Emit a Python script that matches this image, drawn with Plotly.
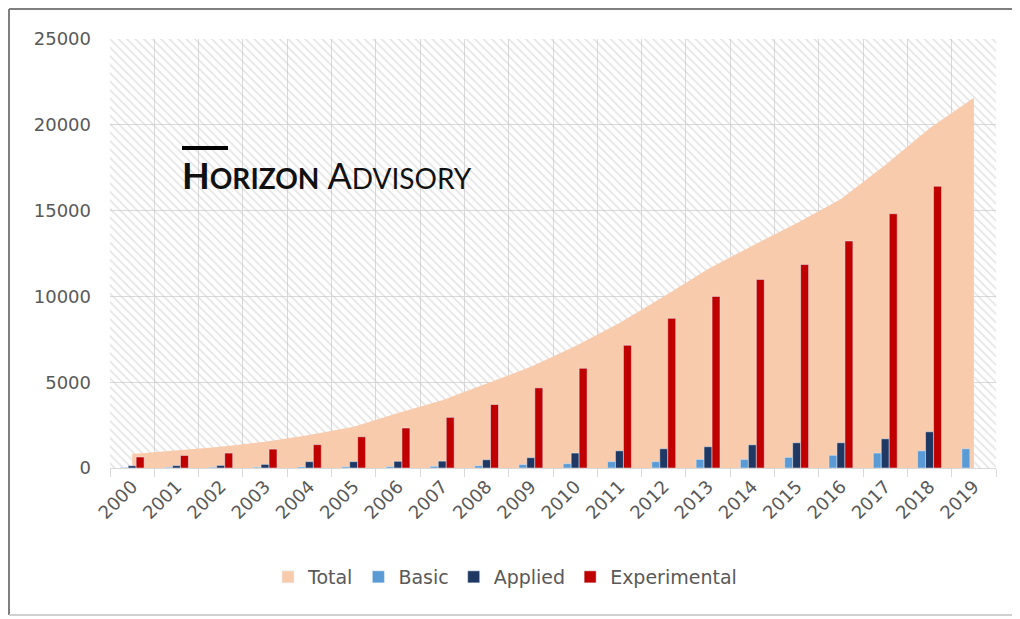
import plotly.graph_objects as go

years = [str(y) for y in range(2000, 2020)]
total = [810, 1010, 1240, 1530, 1920, 2400, 3200, 3950, 4940, 5900,
         7100, 8450, 10000, 11600, 12950, 14270, 15670, 17660, 19800, 21570]
basic = [30, 40, 40, 50, 60, 70, 80, 100, 130, 200,
         250, 370, 370, 500, 500, 620, 740, 870, 1000, 1120]
applied = [130, 140, 150, 210, 370, 370, 390, 400, 480, 600,
           870, 1000, 1120, 1240, 1350, 1470, 1470, 1700, 2110, None]
experimental = [640, 730, 870, 1100, 1360, 1820, 2330, 2950, 3700, 4670,
                5810, 7150, 8720, 10000, 10990, 11860, 13230, 14820, 16420, None]
y_ticks = [0, 5000, 10000, 15000, 20000, 25000]

TXT = "#595959"
GRID = "#d9d9d9"
FONT = "DejaVu Sans"
C_TOTAL, C_BASIC, C_APPLIED, C_EXP = "#F8CBAD", "#5B9BD5", "#1F3864", "#C00000"

# the page body adds an 8px offset; work in screen coordinates below
OFF = 8
W, H = 1020 - OFF, 619 - OFF
SX0, SX1, SY0, SY1 = 110, 996, 39, 468   # plot area on screen
L, R, T, B = SX0 - OFF, W - (SX1 - OFF), SY0 - OFF, H - (SY1 - OFF)
pw, ph = W - L - R, H - T - B


def px(x):
    return (x - OFF - L) / pw


def py(y):
    return (H - B - (y - OFF)) / ph


fig = go.Figure()

# hatched plot background on the base (hidden) axes
fig.add_trace(go.Scatter(
    x=[0, 1, 1, 0, 0], y=[0, 0, 1, 1, 0], mode="lines", fill="toself",
    line=dict(width=0), fillcolor="rgba(0,0,0,0)",
    fillpattern=dict(shape="\\", fgcolor="#c9c9c9", bgcolor="rgba(0,0,0,0)",
                     size=6, solidity=0.28),
    hoverinfo="skip", showlegend=False, xaxis="x", yaxis="y"))

# total area (own layer so that bars sit above it)
fig.add_trace(go.Scatter(
    x=years, y=total, name="Total", mode="lines", fill="tozeroy",
    line=dict(width=0, color=C_TOTAL), fillcolor=C_TOTAL,
    showlegend=False, legendgroup="total", xaxis="x2", yaxis="y2"))
fig.add_trace(go.Bar(x=[None], y=[None], name="Total", marker_color=C_TOTAL,
                     legendgroup="total", xaxis="x2", yaxis="y2"))

fig.add_trace(go.Bar(x=years, y=basic, name="Basic", marker_color=C_BASIC,
                     xaxis="x3", yaxis="y3"))
fig.add_trace(go.Bar(x=years, y=applied, name="Applied", marker_color=C_APPLIED,
                     xaxis="x3", yaxis="y3"))
fig.add_trace(go.Bar(x=years, y=experimental, name="Experimental",
                     marker_color=C_EXP, xaxis="x3", yaxis="y3"))

cat_common = dict(type="category", categoryorder="array", categoryarray=years,
                  range=[-0.5, len(years) - 0.5], fixedrange=True)

fig.update_layout(
    width=W, height=H,
    margin=dict(l=L, r=R, t=T, b=B),
    paper_bgcolor="white", plot_bgcolor="white",
    barmode="group", bargap=0.46, bargroupgap=0,
    hovermode=False,
    font=dict(family=FONT, color=TXT, size=18),
    xaxis=dict(range=[0, 1], visible=False, fixedrange=True),
    yaxis=dict(range=[0, 1], visible=False, fixedrange=True),
    xaxis2=dict(overlaying="x", anchor="y2", **cat_common,
                tickson="boundaries", ticks="outside", ticklen=8,
                tickcolor=GRID, showgrid=True, gridcolor=GRID, gridwidth=1,
                showline=True, linecolor=GRID, linewidth=1,
                tickangle=-45, tickfont=dict(size=18, color=TXT, family=FONT)),
    yaxis2=dict(overlaying="y", anchor="x2", range=[0, 25000],
                tickvals=y_ticks, tickformat="d", showgrid=True,
                gridcolor=GRID, gridwidth=1, fixedrange=True,
                zeroline=False, showline=False, ticks="",
                ticklabelstandoff=18,
                tickfont=dict(size=18, color=TXT, family=FONT)),
    xaxis3=dict(overlaying="x", anchor="y3", **cat_common, visible=False),
    yaxis3=dict(overlaying="y", anchor="x3", range=[0, 25000], visible=False,
                fixedrange=True),
    legend=dict(orientation="h", x=px(505), xanchor="center", y=py(577),
                yanchor="middle", font=dict(size=19, color=TXT, family=FONT),
                itemwidth=30, traceorder="normal"),
    showlegend=True,
)

# logo
fig.add_shape(type="line", xref="paper", yref="paper",
              x0=px(182), x1=px(228), y0=py(148), y1=py(148),
              line=dict(color="black", width=4))
fig.add_annotation(
    xref="paper", yref="paper", x=px(180), y=py(199), xanchor="left",
    yanchor="bottom", showarrow=False,
    text=("<b>H<span style='font-size:28px'>ORIZON</span></b> "
          "A<span style='font-size:28px'>DVISORY</span>"),
    font=dict(family="Lato", size=36, color="#111111"))

# outer frame
fig.add_shape(type="line", xref="paper", yref="paper",
              x0=px(9), x1=px(9), y0=py(615), y1=py(9),
              line=dict(color="#7f7f7f", width=2))
fig.add_shape(type="line", xref="paper", yref="paper",
              x0=px(9), x1=px(1020), y0=py(9), y1=py(9),
              line=dict(color="#7f7f7f", width=2))
fig.add_shape(type="line", xref="paper", yref="paper",
              x0=px(9), x1=px(1020), y0=py(615), y1=py(615),
              line=dict(color="#d0d0d0", width=2))

fig.write_html("out.html")
